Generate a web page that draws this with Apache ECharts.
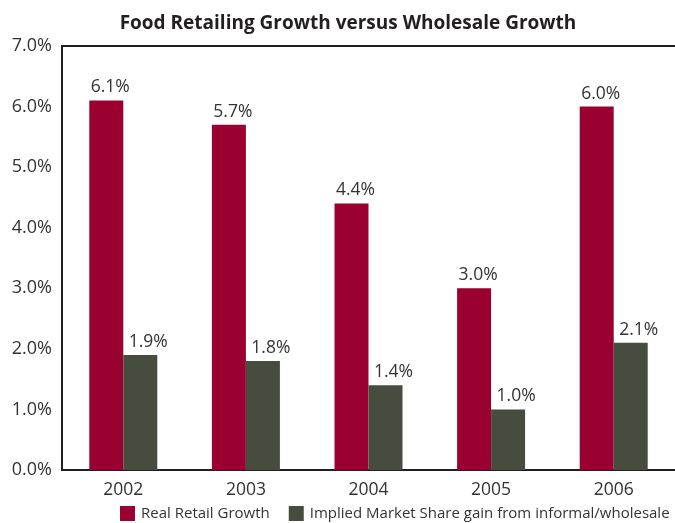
<!DOCTYPE html>
<html>
<head>
<meta charset="utf-8">
<script src="https://cdn.jsdelivr.net/npm/echarts@6/dist/echarts.min.js"></script>
<style>
  html, body { margin: 0; padding: 0; background: #ffffff; }
  #chart { width: 675px; height: 523px; }
</style>
</head>
<body>
<div id="chart"></div>
<script>
// Years on the category axis
const years = ['2002', '2003', '2004', '2005', '2006'];
// Real retail growth (%)
const realRetailGrowth = [6.1, 5.7, 4.4, 3.0, 6.0];
// Implied market share gain from informal/wholesale (%)
const impliedShareGain = [1.9, 1.8, 1.4, 1.0, 2.1];
// Y axis range and step (%)
const yMin = 0, yMax = 7, yStep = 1;

const FONT = '"Open Sans", "Noto Sans", sans-serif';
const TEXT = '#333333';
const AXIS = '#231f20';

const chart = echarts.init(document.getElementById('chart'));

function valueLabel(dx) {
  return {
    show: true,
    position: 'top',
    distance: 4,
    offset: [dx, 0],
    color: TEXT,
    fontFamily: FONT,
    fontSize: 17.5,
    formatter: p => p.value.toFixed(1) + '%'
  };
}

chart.setOption({
  animation: false,
  title: {
    text: 'Food Retailing Growth versus Wholesale Growth',
    left: 343,
    textAlign: 'center',
    top: 9,
    textStyle: { fontFamily: FONT, fontSize: 19, fontWeight: 'bold', color: '#231f20' }
  },
  legend: {
    top: 506,
    left: 120,
    itemWidth: 15,
    itemHeight: 15,
    itemGap: 19,
    icon: 'rect',
    padding: 0,
    textStyle: { fontFamily: FONT, fontSize: 15, color: TEXT, padding: [0, 0, 0, 1] },
    data: ['Real Retail Growth', 'Implied Market Share gain from informal/wholesale']
  },
  grid: { left: 62, right: 0, top: 46, bottom: 53, containLabel: false },
  xAxis: [
    {
      type: 'category',
      data: years,
      axisLine: { lineStyle: { color: AXIS, width: 2 } },
      axisTick: { show: false },
      axisLabel: { color: TEXT, fontFamily: FONT, fontSize: 17.5, margin: 11 }
    },
    {
      // top frame line
      type: 'category',
      position: 'top',
      data: years,
      axisLine: { show: true, lineStyle: { color: AXIS, width: 2 } },
      axisTick: { show: false },
      axisLabel: { show: false }
    }
  ],
  yAxis: {
    type: 'value',
    min: yMin,
    max: yMax,
    interval: yStep,
    axisLine: { show: true, lineStyle: { color: AXIS, width: 2 } },
    axisTick: { show: false },
    splitLine: { show: false },
    axisLabel: {
      color: TEXT,
      fontFamily: FONT,
      fontSize: 18,
      margin: 10,
      formatter: v => v.toFixed(1) + '%'
    }
  },
  series: [
    {
      name: 'Real Retail Growth',
      type: 'bar',
      data: realRetailGrowth,
      barWidth: 34,
      barGap: '0%',
      itemStyle: { color: '#9a0030' },
      label: valueLabel(4)
    },
    {
      name: 'Implied Market Share gain from informal/wholesale',
      type: 'bar',
      data: impliedShareGain,
      barWidth: 34,
      barGap: '0%',
      itemStyle: { color: '#464d3e' },
      label: valueLabel(8)
    }
  ]
});
</script>
</body>
</html>
